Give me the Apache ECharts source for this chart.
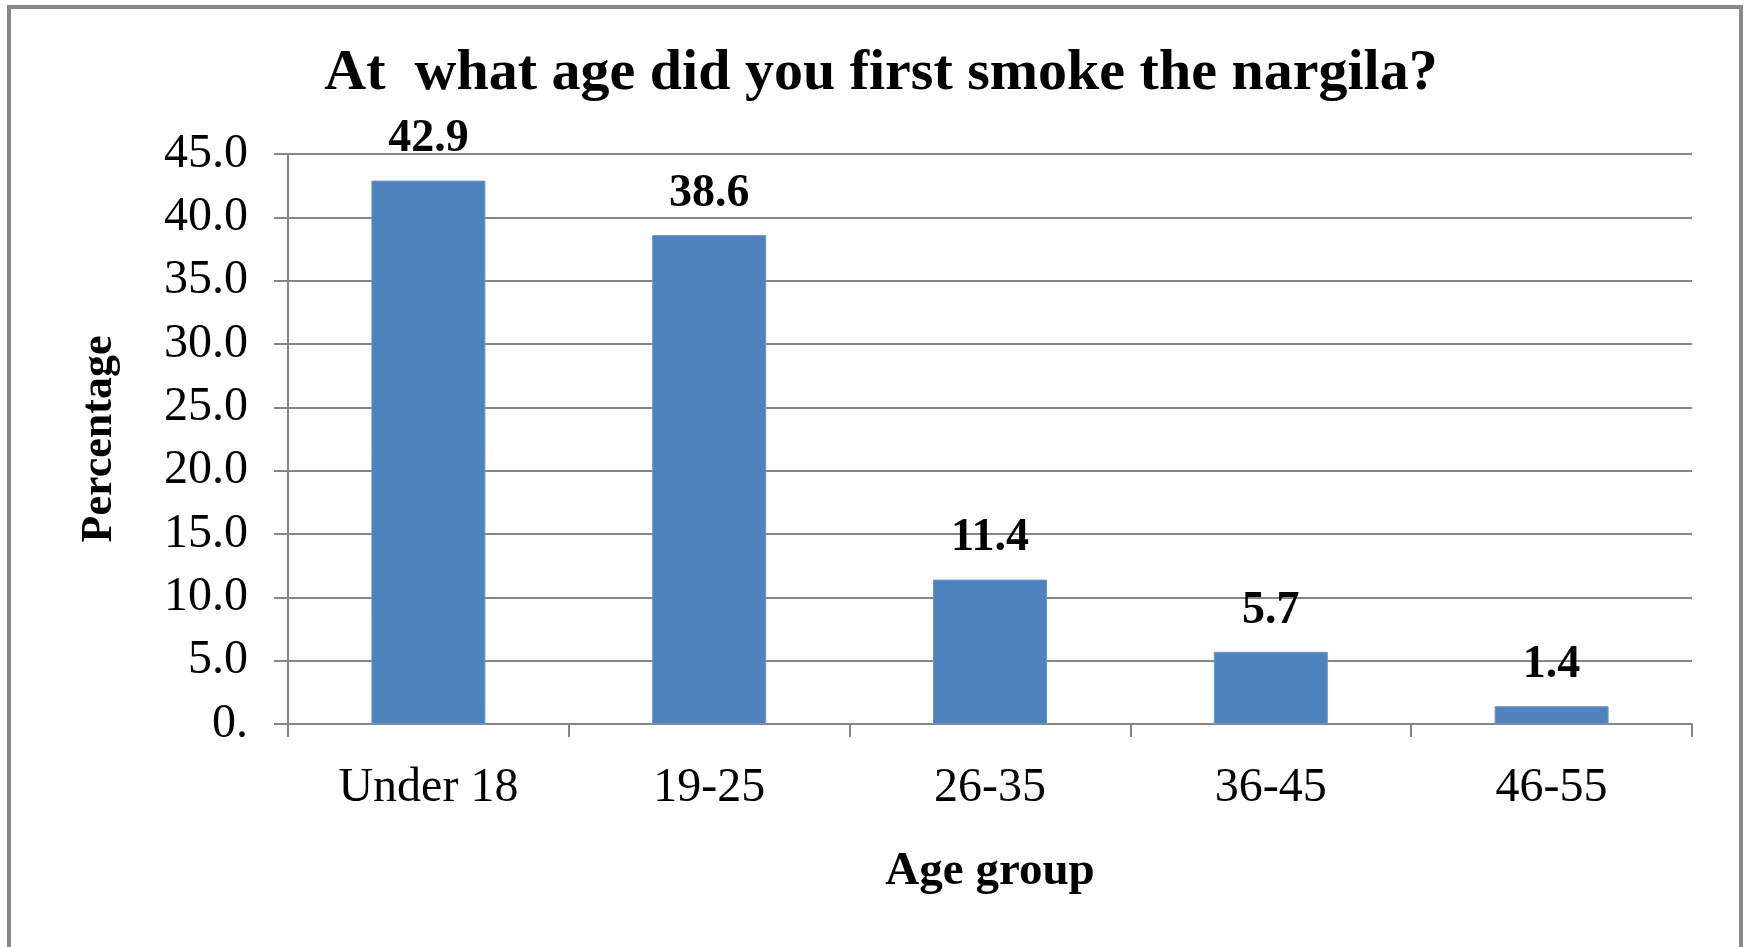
<!DOCTYPE html>
<html>
<head>
<meta charset="utf-8">
<title>At what age did you first smoke the nargila?</title>
<script src="https://cdn.jsdelivr.net/npm/echarts@6/dist/echarts.min.js"></script>
<style>
  html, body { margin: 0; padding: 0; background: #fff; }
  #chart { width: 1751px; height: 947px; }
</style>
</head>
<body>
<div id="chart"></div>
<script>
// data
const ageGroups = ['Under 18', '19-25', '26-35', '36-45', '46-55'];
const percentages = [42.9, 38.6, 11.4, 5.7, 1.4];

const serif = '"Liberation Serif", "Times New Roman", serif';

let myChart = echarts.init(document.getElementById('chart'));

let options = {
  backgroundColor: '#fff',
  animation: false,
  title: {
    text: 'At  what age did you first smoke the nargila?',
    left: 876,
    top: 40,
    textAlign: 'center',
    textStyle: { fontFamily: serif, fontWeight: 'bold', fontSize: 58, color: '#000' }
  },
  graphic: [
    {
      type: 'rect',
      shape: { x: 9, y: 7, width: 1732, height: 960 },
      style: { fill: 'none', stroke: '#878787', lineWidth: 4 },
      silent: true
    }
  ],
  grid: { left: 288, right: 59, top: 154, bottom: 223 },
  xAxis: {
    type: 'category',
    data: ageGroups,
    name: 'Age group',
    nameLocation: 'middle',
    nameGap: 124,
    nameTextStyle: { fontFamily: serif, fontWeight: 'bold', fontSize: 47, color: '#000' },
    axisLine: { lineStyle: { color: '#868686', width: 2 } },
    axisTick: { show: true, alignWithLabel: false, length: 13, lineStyle: { color: '#868686', width: 2 } },
    axisLabel: { fontFamily: serif, fontSize: 48, color: '#000', margin: 40 }
  },
  yAxis: {
    type: 'value',
    min: 0,
    max: 45,
    interval: 5,
    name: 'Percentage',
    nameLocation: 'middle',
    nameGap: 166,
    nameRotate: 90,
    nameTextStyle: { fontFamily: serif, fontWeight: 'bold', fontSize: 44, color: '#000' },
    axisLine: { show: true, lineStyle: { color: '#868686', width: 2 } },
    axisTick: { show: true, length: 14, lineStyle: { color: '#868686', width: 2 } },
    splitLine: { show: true, lineStyle: { color: '#868686', width: 2 } },
    axisLabel: {
      fontFamily: serif, fontSize: 48, color: '#000', margin: 40,
      formatter: function (v) { return v === 0 ? '0.' : v.toFixed(1); }
    }
  },
  series: [
    {
      type: 'bar',
      data: percentages,
      barWidth: 114,
      itemStyle: { color: '#4F81BD', borderColor: '#6C97CB', borderWidth: 1 },
      label: {
        show: true,
        position: 'top',
        distance: 18,
        fontFamily: serif,
        fontWeight: 'bold',
        fontSize: 46,
        color: '#000',
        formatter: function (p) { return p.value.toFixed(1); }
      }
    }
  ]
};

myChart.setOption(options);
</script>
</body>
</html>
